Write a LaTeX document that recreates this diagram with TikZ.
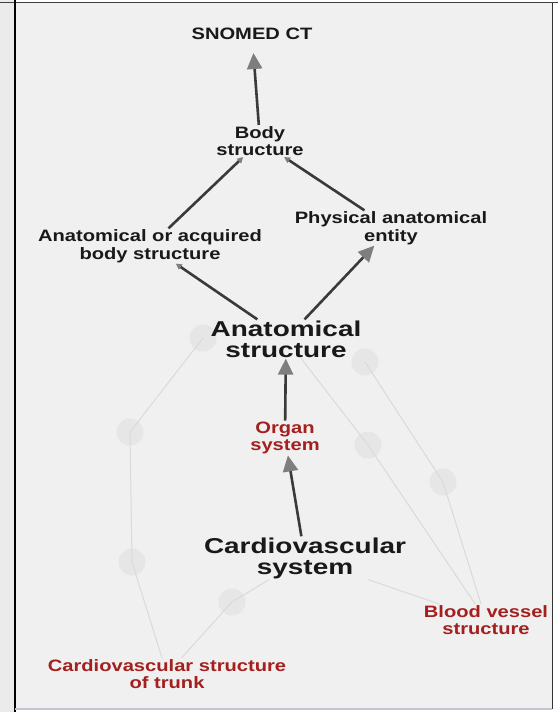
\documentclass[tikz,border=0pt]{standalone}
\usepackage{fontspec}
\setmainfont[FakeStretch=1.22]{Liberation Sans}
\newfontfamily\bigfont[FakeStretch=1.3]{Liberation Sans}
\usepackage{xcolor}
\usetikzlibrary{positioning,arrows.meta,backgrounds}
\definecolor{panel}{HTML}{F0F0F0}
\definecolor{strip}{HTML}{EBEBEB}
\definecolor{ghostfill}{HTML}{E6E6E6}
\definecolor{ghostline}{HTML}{DADADA}
\definecolor{edgecol}{HTML}{3A3A3A}
\definecolor{tipcol}{HTML}{7E7E7E}
\definecolor{darkred}{HTML}{A3201E}

\begin{document}
\begin{tikzpicture}[x=1pt,y=-1pt,>=Stealth,
    lbl/.style={font=\bfseries\fontsize{16.5}{17.5}\selectfont,align=center,inner sep=1pt,text=black!90},
    big/.style={lbl,font=\bigfont\bfseries\fontsize{21.5}{21}\selectfont},
    redlbl/.style={lbl,text=darkred},
    isa/.style={draw=edgecol,line width=2.6pt,-{Triangle[length=16pt,width=15pt,color=tipcol]}},
    isasmall/.style={draw=edgecol,line width=2.6pt,-{Triangle[length=6pt,width=6pt,color=tipcol]}},
    ghost/.style={circle,fill=ghostfill,minimum size=27pt,inner sep=0pt},
    ghostedge/.style={draw=ghostline,line width=1pt}]
    \useasboundingbox (0,0) rectangle (558,712);
    % panel
    \begin{scope}[on background layer]
    \fill[white] (0,0) rectangle (558,712);
    \fill[strip] (0,0) rectangle (15,712);
    \fill[panel] (15,3) rectangle (552,709);
    \end{scope}
    % labelled concepts
    \node[lbl] (snomed) at (252,34) {SNOMED CT};
    \node[lbl] (body) at (260,141) {Body\\structure};
    \node[lbl] (acq) at (150,246) {Anatomical or acquired\\body structure};
    \node[lbl] (phys) at (391,228) {Physical anatomical\\entity};
    \node[big] (anat) at (286,339) {Anatomical\\structure};
    \node[redlbl] (organ) at (285,438) {Organ\\system};
    \node[big] (cardio) at (305,558) {Cardiovascular\\system};
    \node[redlbl] (vessel) at (486,620) {Blood vessel\\structure};
    \node[redlbl] (trunk) at (167,674) {Cardiovascular structure\\of trunk};
    % faded neighbours
    \begin{scope}[on background layer]
    \node[ghost] (g1) at (203,338) {};
    \node[ghost] (g2) at (130,432) {};
    \node[ghost] (g3) at (132,562) {};
    \node[ghost] (g4) at (232,602) {};
    \node[ghost] (g5) at (368,445) {};
    \node[ghost] (g6) at (365,362) {};
    \node[ghost] (g7) at (443,482) {};
    \draw[ghostedge] (g1.center) -- (g2.center) -- (g3.center) -- (trunk);
    \draw[ghostedge] (trunk) -- (g4.center) -- (cardio);
    \draw[ghostedge] (cardio) -- (vessel);
    \draw[ghostedge] (anat) -- (g5.center) -- (vessel);
    \draw[ghostedge] (g6.center) -- (g7.center) -- (vessel);
    \end{scope}
    % is-a links
    \draw[isa,shorten >=12pt] (body) -- (snomed);
    \draw[isasmall] (acq) -- (body);
    \draw[isasmall] (phys) -- (body);
    \draw[isasmall] (anat) -- (acq);
    \draw[isa] (anat) -- (phys);
    \draw[isa] (organ) -- (anat);
    \draw[isa] (cardio) -- (organ);
    % frame
    \draw[black!75,line width=1.5pt] (0,2.5) -- (558,2.5);
    \draw[black,line width=2pt] (15,0) -- (15,712);
    \draw[black!80,line width=1.5pt] (552.5,3) -- (552.5,709);
    \draw[blue!15!gray!40,line width=1.5pt] (15,709) -- (552,709);
\end{tikzpicture}
\end{document}
